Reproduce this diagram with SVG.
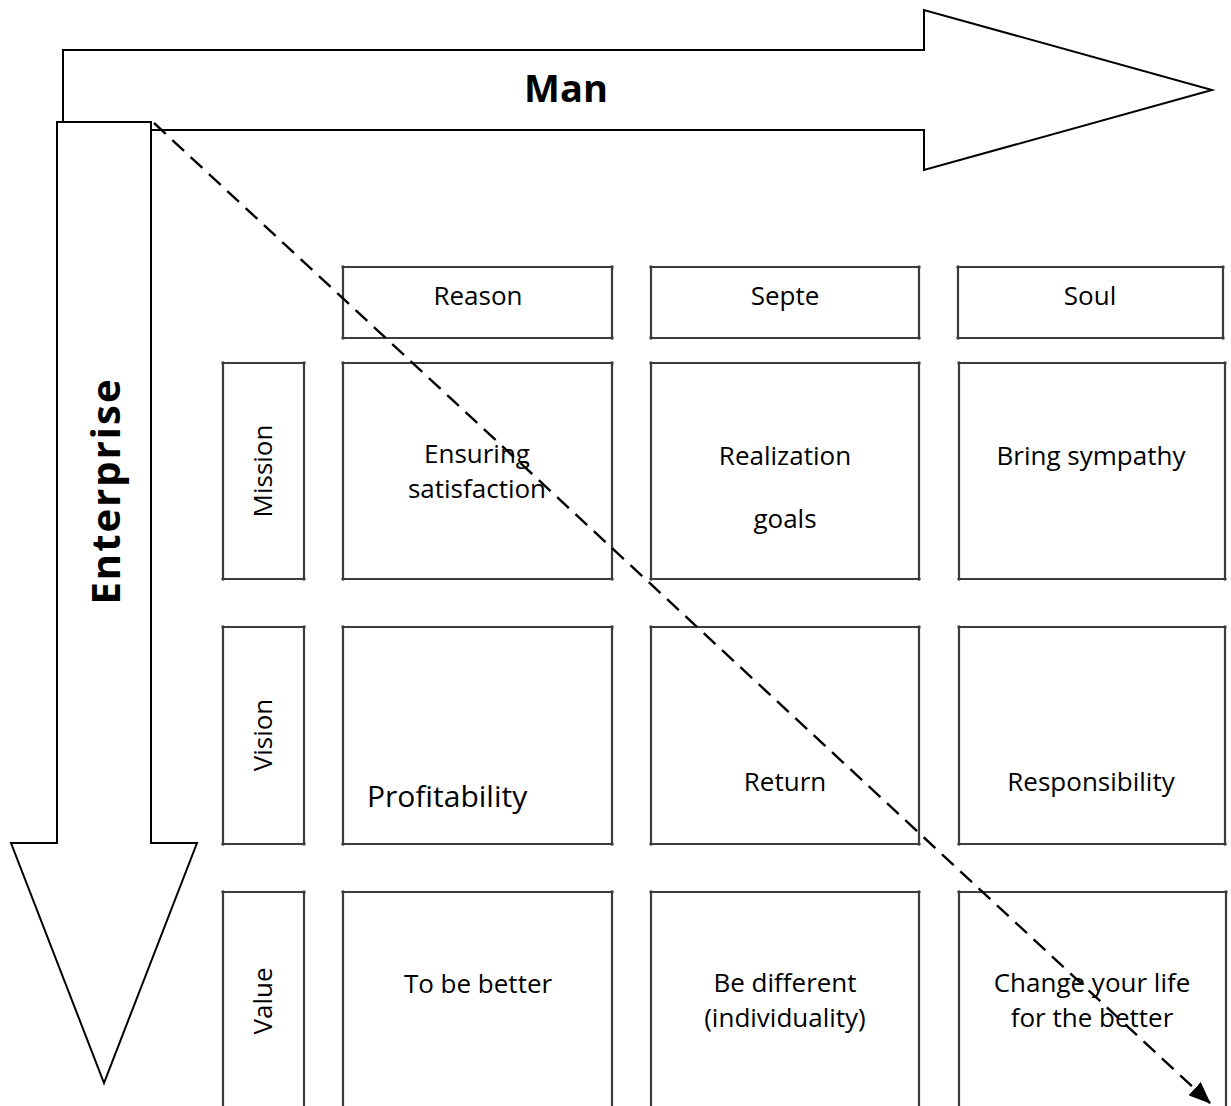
<svg xmlns="http://www.w3.org/2000/svg" width="1231" height="1106" viewBox="0 0 1231 1106">
  <style>
    .arrow { fill: #ffffff; stroke: #000000; stroke-width: 2; stroke-linejoin: miter; }
    .box { fill: #ffffff; stroke: #3c3c3c; stroke-width: 2.2; marker-start: url(#corner); marker-mid: url(#corner); }
    .lbl { font-family: "Open Sans", "Noto Sans", sans-serif; font-size: 26px; fill: #000000; text-anchor: middle; }
    .big { font-family: "Open Sans", "Noto Sans", sans-serif; font-weight: bold; font-size: 38px; fill: #000000; text-anchor: middle; }
    .flow { fill: none; stroke: #000000; stroke-width: 2.4; stroke-dasharray: 16 9; marker-end: url(#tip); }
  </style>
  <defs>
    <marker id="corner" viewBox="-2 -2 4 4" markerWidth="4" markerHeight="4" refX="0" refY="0" markerUnits="userSpaceOnUse">
      <circle cx="0" cy="0" r="1.7" fill="#3c3c3c"/>
    </marker>
    <marker id="tip" viewBox="0 0 22 18" markerWidth="22" markerHeight="18" refX="21" refY="9" orient="auto" markerUnits="userSpaceOnUse">
      <path d="M0,0 L22,9 L0,18 Z" fill="#000000"/>
    </marker>
  </defs>
  <rect width="1231" height="1106" fill="#ffffff"/>

  <!-- horizontal axis arrow -->
  <g id="man-axis">
    <polygon class="arrow" points="63,50 924,50 924,10 1212,90 924,170 924,130 151,130 151,140 63,140"/>
    <text class="big" x="566" y="102">Man</text>
  </g>

  <!-- vertical axis arrow, drawn over the corner of the horizontal one -->
  <g id="enterprise-axis">
    <polygon class="arrow" points="57,122 151,122 151,843 197,843 104,1083 11,843 57,843"/>
    <text class="big" transform="translate(120,491) rotate(-90)" x="0" y="0" style="font-size:40px;letter-spacing:2px">Enterprise</text>
  </g>

  <!-- column headers -->
  <g id="h-reason">
    <polygon class="box" points="343,267 612,267 612,338 343,338"/>
    <text class="lbl" x="478" y="305">Reason</text>
  </g>
  <g id="h-septe">
    <polygon class="box" points="651,267 919,267 919,338 651,338"/>
    <text class="lbl" x="785" y="305">Septe</text>
  </g>
  <g id="h-soul">
    <polygon class="box" points="958,267 1223,267 1223,338 958,338"/>
    <text class="lbl" x="1090" y="305">Soul</text>
  </g>

  <!-- row headers -->
  <g id="r-mission">
    <polygon class="box" points="223,363 304,363 304,579 223,579"/>
    <text class="lbl" transform="translate(272,471) rotate(-90)">Mission</text>
  </g>
  <g id="r-vision">
    <polygon class="box" points="223,627 304,627 304,844 223,844"/>
    <text class="lbl" transform="translate(272,735) rotate(-90)">Vision</text>
  </g>
  <g id="r-value">
    <polygon class="box" points="223,892 304,892 304,1120 223,1120"/>
    <text class="lbl" transform="translate(272,1001) rotate(-90)">Value</text>
  </g>

  <!-- mission row -->
  <g id="c-mission-reason">
    <polygon class="box" points="343,363 612,363 612,579 343,579"/>
    <text class="lbl" x="477" y="463">Ensuring</text>
    <text class="lbl" x="477" y="498">satisfaction</text>
  </g>
  <g id="c-mission-septe">
    <polygon class="box" points="651,363 919,363 919,579 651,579"/>
    <text class="lbl" x="785" y="465">Realization</text>
    <text class="lbl" x="785" y="528">goals</text>
  </g>
  <g id="c-mission-soul">
    <polygon class="box" points="959,363 1225,363 1225,579 959,579"/>
    <text class="lbl" x="1091" y="465">Bring sympathy</text>
  </g>

  <!-- vision row -->
  <g id="c-vision-reason">
    <polygon class="box" points="343,627 612,627 612,844 343,844"/>
    <text class="lbl" x="367" y="807" style="text-anchor:start;font-size:30px">Profitability</text>
  </g>
  <g id="c-vision-septe">
    <polygon class="box" points="651,627 919,627 919,844 651,844"/>
    <text class="lbl" x="785" y="791">Return</text>
  </g>
  <g id="c-vision-soul">
    <polygon class="box" points="959,627 1225,627 1225,844 959,844"/>
    <text class="lbl" x="1091" y="791">Responsibility</text>
  </g>

  <!-- value row -->
  <g id="c-value-reason">
    <polygon class="box" points="343,892 612,892 612,1120 343,1120"/>
    <text class="lbl" x="478" y="993">To be better</text>
  </g>
  <g id="c-value-septe">
    <polygon class="box" points="651,892 919,892 919,1120 651,1120"/>
    <text class="lbl" x="785" y="992">Be different</text>
    <text class="lbl" x="785" y="1027">(individuality)</text>
  </g>
  <g id="c-value-soul">
    <polygon class="box" points="959,892 1226,892 1226,1120 959,1120"/>
    <text class="lbl" x="1092" y="992">Change your life</text>
    <text class="lbl" x="1092" y="1027">for the better</text>
  </g>

  <!-- diagonal direction line -->
  <g id="connectors">
    <path class="flow" d="M154,123 L1210,1103"/>
  </g>
</svg>
